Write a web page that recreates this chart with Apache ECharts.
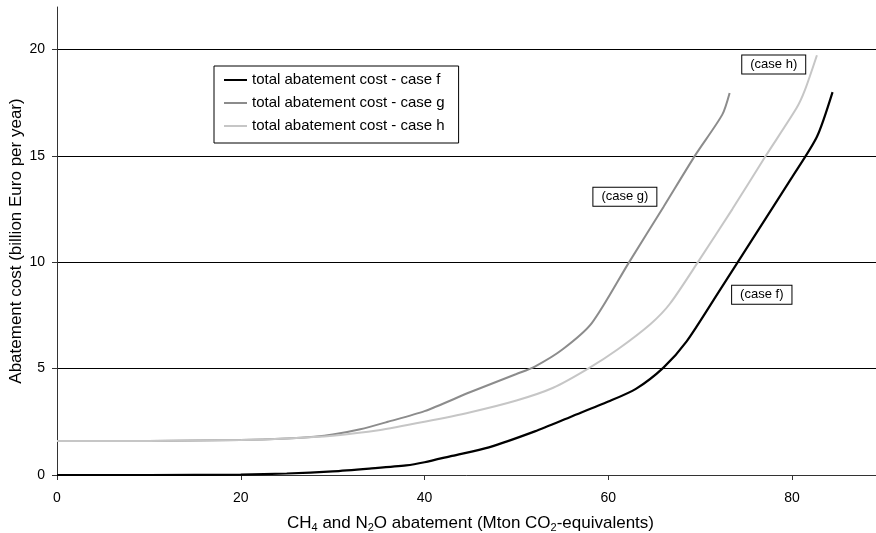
<!DOCTYPE html>
<html>
<head>
<meta charset="utf-8">
<script src="https://cdn.jsdelivr.net/npm/echarts@6/dist/echarts.min.js"></script>
<style>
html,body{margin:0;padding:0;background:#fff;}
#c{width:876px;height:533px;}
</style>
</head>
<body>
<div id="c"></div>
<script>
// ---- data ----
const caseFx = [0, 10, 20, 25, 30, 34, 38, 40, 43, 47, 52, 56, 60, 63, 66, 68.5, 72, 76, 80, 82.7, 84.4];
const caseFy = [0, 0, 0.02, 0.07, 0.17, 0.3, 0.45, 0.6, 0.9, 1.3, 2.05, 2.75, 3.45, 4.05, 5.05, 6.27, 8.6, 11.3, 14.0, 15.9, 18.0];

const caseGx = [0, 10, 20, 25, 28, 30, 33, 36, 40, 45, 50, 52, 55, 58.2, 62.2, 66, 69.5, 72.4, 73.2];
const caseGy = [1.6, 1.6, 1.65, 1.72, 1.8, 1.9, 2.15, 2.5, 3.0, 3.9, 4.75, 5.1, 5.9, 7.14, 9.96, 12.6, 15.06, 16.94, 17.96];

const caseHx = [0, 10, 20, 25, 30, 35, 40, 45, 50, 54, 57.8, 61, 64.6, 66.7, 69.8, 73.5, 77.1, 80.5, 81.4, 82.7];
const caseHy = [1.6, 1.6, 1.65, 1.72, 1.85, 2.1, 2.5, 2.95, 3.5, 4.1, 5.0, 5.9, 7.1, 8.05, 10.04, 12.5, 14.98, 17.26, 18.1, 19.73];

const seriesNames = ['total abatement cost - case f', 'total abatement cost - case g', 'total abatement cost - case h'];
const annotTexts = ['(case f)', '(case g)', '(case h)'];
const annotX = [76.7, 61.8, 78.0];
const annotY = [8.47, 13.08, 19.3];

const xTicks = [0, 20, 40, 60, 80];
const yTicks = [0, 5, 10, 15, 20];
const xMin = 0, xMax = 90, yMin = 0, yMax = 22;

const xTitle = 'CH{sub|4} and N{sub|2}O abatement (Mton CO{sub|2}-equivalents)';
const yTitle = 'Abatement cost (billion Euro per year)';

// ---- build ----
const FONT = 'Liberation Sans, Arial, sans-serif';
const colors = ['#000000', '#8c8c8c', '#c6c6c6'];
const widths = [2.2, 2, 2];
const xs = [caseFx, caseGx, caseHx];
const ys = [caseFy, caseGy, caseHy];

function zip(a, b) { return a.map((v, i) => [v, b[i]]); }

const series = seriesNames.map((name, i) => ({
  name: name,
  type: 'line',
  data: zip(xs[i], ys[i]),
  symbol: 'none',
  smooth: 0.25,
  lineStyle: { color: colors[i], width: widths[i] },
  itemStyle: { color: colors[i] },
  z: 3,
  markPoint: {
    silent: true,
    symbol: 'rect',
    symbolSize: 0,
    data: [{ coord: [annotX[i], annotY[i]] }],
    label: {
      show: true,
      position: 'inside',
      formatter: annotTexts[i],
      fontFamily: FONT,
      fontSize: 13,
      color: '#000',
      backgroundColor: '#fff',
      borderColor: '#000',
      borderWidth: 1,
      padding: [3, 8, 2, 8]
    }
  }
}));

const chart = echarts.init(document.getElementById('c'), null, { renderer: 'canvas' });
chart.setOption({
  animation: false,
  backgroundColor: '#fff',
  textStyle: { fontFamily: FONT },
  grid: { left: 57, top: 7, right: -8, bottom: 58, containLabel: false, outerBoundsMode: 'none' },
  legend: {
    data: seriesNames.map(n => ({ name: n, icon: 'path://M0,0 L23,0 L23,2 L0,2 Z' })),
    orient: 'vertical',
    left: 214,
    top: 66,
    padding: [6, 14, 9, 10],
    itemWidth: 23,
    itemHeight: 14,
    itemGap: 7,
    backgroundColor: '#fff',
    borderColor: '#000',
    borderWidth: 1,
    borderRadius: 0,
    textStyle: { fontFamily: FONT, fontSize: 15, color: '#000', lineHeight: 16 }
  },
  xAxis: {
    type: 'value',
    min: xMin,
    max: xMax,
    interval: 20,
    name: xTitle,
    nameLocation: 'middle',
    nameGap: 38,
    nameTextStyle: {
      fontFamily: FONT, fontSize: 17, color: '#000',
      rich: { sub: { fontFamily: FONT, fontSize: 11, color: '#000', padding: [9, 0, 0, 0] } }
    },
    axisLine: { show: true, onZero: false, lineStyle: { color: '#333', width: 1 } },
    axisTick: { show: true, length: 5, lineStyle: { color: '#333' }, customValues: xTicks },
    axisLabel: { customValues: xTicks, fontFamily: FONT, fontSize: 14, color: '#000', margin: 16 },
    splitLine: { show: false }
  },
  yAxis: {
    type: 'value',
    min: yMin,
    max: yMax,
    interval: 5,
    name: yTitle,
    nameLocation: 'middle',
    nameGap: 32,
    nameMoveOverlap: false,
    nameTextStyle: { fontFamily: FONT, fontSize: 17, color: '#000' },
    axisLine: { show: true, onZero: false, lineStyle: { color: '#333', width: 1 } },
    axisTick: { show: true, length: 5, lineStyle: { color: '#333' }, customValues: yTicks },
    axisLabel: { customValues: yTicks, fontFamily: FONT, fontSize: 14, color: '#000', margin: 12 },
    splitLine: { show: true, showMinLine: false, lineStyle: { color: '#000', width: 1 } }
  },
  series: series
});
</script>
</body>
</html>
